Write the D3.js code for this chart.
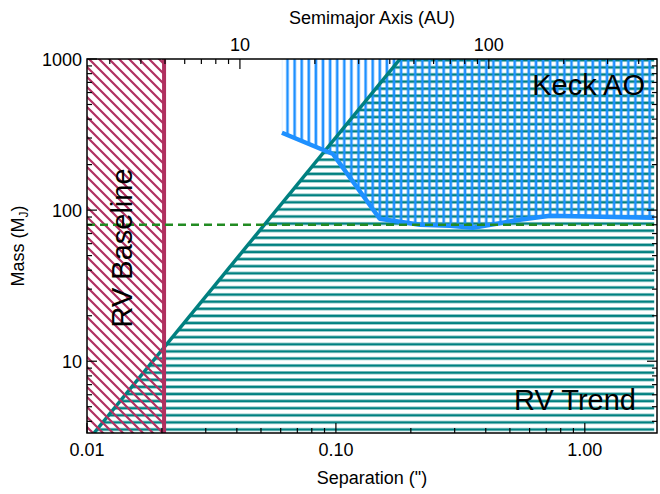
<!DOCTYPE html>
<html><head><meta charset="utf-8">
<script src="https://cdn.jsdelivr.net/npm/d3@7"></script>
<style>body{margin:0;background:#fff}text{font-family:"Liberation Sans",Arial,sans-serif}</style>
</head><body>
<script>
// data
const sepDomain = [0.01, 1.95];
const massDomain = [3.35, 1000];
const distPc = 243;
const rvBaseline = 0.0204;
const trendLine = [[0.01067, 3.35], [0.181, 1000]];   // M ~ sep^2
const aoSep  = [0.0607, 0.0973, 0.150, 0.218, 0.287, 0.355, 0.548, 0.723, 1.876];
const aoMass = [325, 235, 87.7, 80, 78.8, 76.4, 86.3, 91.9, 89.1];
const aoEdge = 1.90;
const hbLimit = 80;
const xTicks = [0.01, 0.1, 1];
const xTickLabels = ["0.01", "0.10", "1.00"];
const auTicks = [10, 100];
const yTicks = [10, 100, 1000];

const W = 660, H = 494, m = {l: 87, r: 3, t: 59, b: 61};
const svg = d3.select('body').append('svg').attr('width', W).attr('height', H);
const x = d3.scaleLog().domain(sepDomain).range([m.l, W - m.r]);
const y = d3.scaleLog().domain(massDomain).range([H - m.b, m.t]);
const xa = d3.scaleLog().domain(sepDomain.map(s => s * distPc)).range(x.range());

const defs = svg.append('defs');
defs.append('clipPath').attr('id', 'plot').append('rect')
  .attr('x', m.l).attr('y', m.t).attr('width', W - m.l - m.r).attr('height', H - m.t - m.b);
function pattern(id, w, h, d, color, sw) {
  const p = defs.append('pattern').attr('id', id).attr('patternUnits', 'userSpaceOnUse')
    .attr('width', w).attr('height', h);
  p.append('path').attr('d', d).attr('stroke', color).attr('stroke-width', sw).attr('fill', 'none');
}
pattern('hTeal', 10, 7.1, 'M0,3.5H10', '#008080', 2.6);
pattern('vBlue', 7.1, 10, 'M3.5,0V10', '#1e90ff', 2.6);
pattern('dRed', 10, 10, 'M-5,-5L15,15M-5,5L5,15M5,-5L15,5', '#b03060', 2.2);

const g = svg.append('g').attr('clip-path', 'url(#plot)');
const line = d3.line().x(d => x(d[0])).y(d => y(d[1]));

// RV trend region (below teal line)
const trendPoly = [trendLine[0], trendLine[1], [aoEdge, 1000], [aoEdge, massDomain[0]]];
g.append('path').attr('d', line(trendPoly) + 'Z').attr('fill', 'url(#hTeal)');
// Keck AO region
const aoPts = aoSep.map((s, i) => [s, aoMass[i]]);
const aoPoly = [[aoSep[0], 1000]].concat(aoPts, [[aoEdge, aoMass[aoMass.length - 1]], [aoEdge, 1000]]);
g.append('path').attr('d', line(aoPoly) + 'Z').attr('fill', 'url(#vBlue)');
// teal line
g.append('path').attr('d', line(trendLine)).attr('stroke', '#008080').attr('stroke-width', 3.5).attr('fill', 'none');
// AO curve
g.append('path').attr('d', line(aoPts.concat([[aoEdge, aoMass[aoMass.length - 1]]])))
  .attr('stroke', '#1e90ff').attr('stroke-width', 4.5).attr('fill', 'none').attr('stroke-linejoin', 'round');
// RV baseline
g.append('rect').attr('x', x(sepDomain[0])).attr('y', m.t).attr('width', x(rvBaseline) - x(sepDomain[0]))
  .attr('height', H - m.t - m.b).attr('fill', 'url(#dRed)');
g.append('line').attr('x1', x(rvBaseline)).attr('x2', x(rvBaseline)).attr('y1', m.t).attr('y2', H - m.b)
  .attr('stroke', '#b03060').attr('stroke-width', 4);
// H burning limit
g.append('line').attr('x1', m.l).attr('x2', W - m.r).attr('y1', y(hbLimit)).attr('y2', y(hbLimit))
  .attr('stroke', '#228b22').attr('stroke-width', 2.5).attr('stroke-dasharray', '8,5');

// labels
svg.append('text').attr('x', 645).attr('y', 95).attr('text-anchor', 'end').attr('font-size', 29).text('Keck AO');
svg.append('text').attr('x', 636).attr('y', 410).attr('text-anchor', 'end').attr('font-size', 29).text('RV Trend');
svg.append('text').attr('transform', 'translate(132,248) rotate(-90)').attr('text-anchor', 'middle').attr('font-size', 29).text('RV Baseline');

// frame and ticks
svg.append('rect').attr('x', m.l).attr('y', m.t).attr('width', W - m.l - m.r).attr('height', H - m.t - m.b)
  .attr('fill', 'none').attr('stroke', '#000').attr('stroke-width', 1.5);
function ticksFor(scale, lo, hi) {
  const out = [];
  for (let e = Math.floor(Math.log10(lo)); e <= Math.ceil(Math.log10(hi)); e++)
    for (let k = 1; k < 10; k++) { const v = k * Math.pow(10, e); if (v >= lo && v <= hi) out.push([v, k === 1]); }
  return out;
}
const tk = svg.append('g').attr('stroke', '#000').attr('stroke-width', 1.2);
ticksFor(x, sepDomain[0], sepDomain[1]).forEach(([v, maj]) => {
  const L = maj ? 10 : 5;
  tk.append('line').attr('x1', x(v)).attr('x2', x(v)).attr('y1', H - m.b).attr('y2', H - m.b - L);
});
ticksFor(xa, xa.domain()[0], xa.domain()[1]).forEach(([v, maj]) => {
  const L = maj ? 10 : 5;
  tk.append('line').attr('x1', xa(v)).attr('x2', xa(v)).attr('y1', m.t).attr('y2', m.t + L);
});
ticksFor(y, massDomain[0], massDomain[1]).forEach(([v, maj]) => {
  const L = maj ? 10 : 5;
  tk.append('line').attr('x1', m.l).attr('x2', m.l + L).attr('y1', y(v)).attr('y2', y(v));
  tk.append('line').attr('x1', W - m.r).attr('x2', W - m.r - L).attr('y1', y(v)).attr('y2', y(v));
});
xTicks.forEach((v, i) => svg.append('text').attr('x', x(v)).attr('y', H - m.b + 23).attr('text-anchor', 'middle')
  .attr('font-size', 18).text(xTickLabels[i]));
auTicks.forEach(v => svg.append('text').attr('x', xa(v)).attr('y', m.t - 8).attr('text-anchor', 'middle')
  .attr('font-size', 18).text(v));
yTicks.forEach(v => svg.append('text').attr('x', m.l - 5).attr('y', y(v) + 7).attr('text-anchor', 'end')
  .attr('font-size', 18).text(v));
svg.append('text').attr('x', (m.l + W - m.r) / 2).attr('y', H - 10).attr('text-anchor', 'middle').attr('font-size', 18).text('Separation (")');
svg.append('text').attr('x', (m.l + W - m.r) / 2).attr('y', 24).attr('text-anchor', 'middle').attr('font-size', 18).text('Semimajor Axis (AU)');
const yl = svg.append('text').attr('transform', `translate(24,${(m.t + H - m.b) / 2}) rotate(-90)`).attr('text-anchor', 'middle').attr('font-size', 18);
yl.append('tspan').text('Mass (M');
yl.append('tspan').attr('font-size', 12).attr('dy', 4).text('J');
yl.append('tspan').attr('dy', -4).text(')');
</script>
</body></html>
